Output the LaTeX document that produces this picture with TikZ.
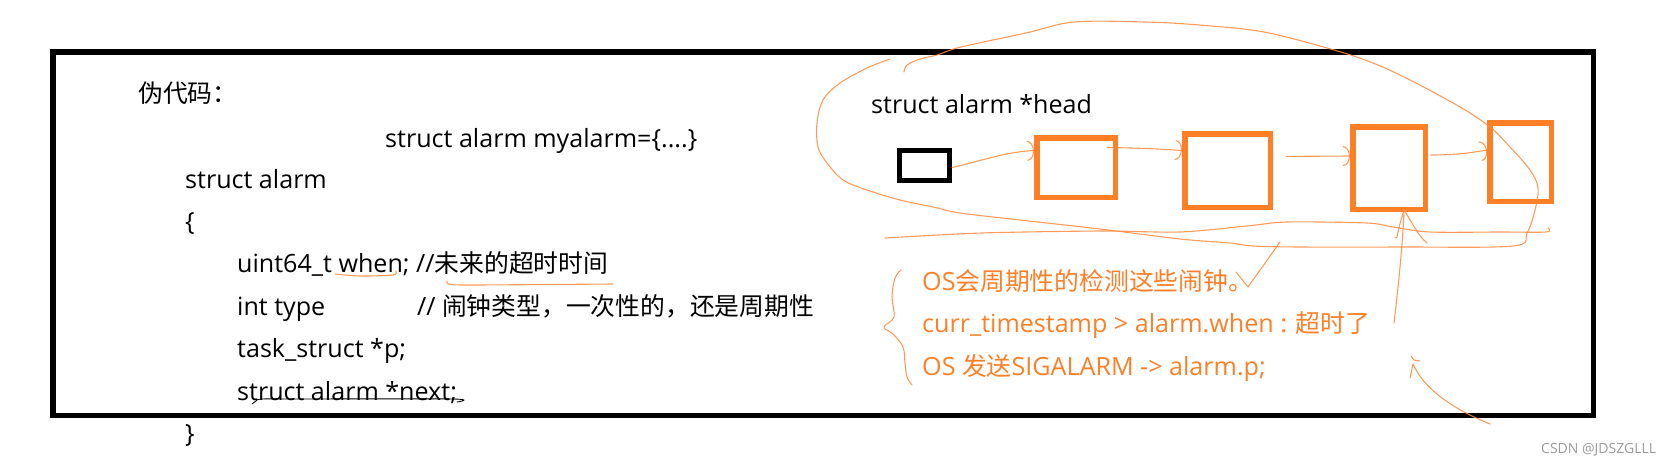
\documentclass[tikz,border=0pt]{standalone}
\usepackage{fontspec}
\setmainfont{Open Sans}
\newfontfamily\zh{Noto Sans CJK SC}
\usetikzlibrary{arrows.meta,calc}
\definecolor{paintorange}{HTML}{FF7F27}
\definecolor{handorange}{HTML}{FF8A3D}
\definecolor{wmgray}{HTML}{9A9A9A}
\newcommand{\lsz}{\fontsize{25.1}{29}\selectfont}
\newcommand{\zsz}{\fontsize{24.8}{29}\selectfont}
\newcommand{\cn}[1]{{\zh\zsz #1}}
\begin{document}
\begin{tikzpicture}[x=1pt,y=-1pt,
  code/.style={anchor=base west, inner sep=0pt, font=\lsz, text=black},
  note/.style={code, text=paintorange},
  blackbox/.style={draw=black, line width=5pt, inner sep=0pt, minimum width=50pt, minimum height=30pt},
  obox/.style={draw=paintorange, line width=5.5pt, inner sep=0pt},
  hand/.style={draw=handorange, line width=1.1pt, opacity=0.85, line cap=round, line join=round},
  handtip/.style={hand, -{Arc Barb[length=7pt,width=20pt]}},
  inkline/.style={draw=black, line width=0.9pt, line cap=round},
]
\path[use as bounding box] (0,0) rectangle (1669,463);
% frame
\draw[line width=5.5pt] (52.75,51.75) rectangle (1593.25,415.25);

% pseudo code
\node[code] (t0) at (138,102) {\cn{伪代码：}};
\node[code] (t1) at (385,147) {struct alarm myalarm=\{....\}};
\node[code] (t2) at (185,188) {struct alarm};
\node[code] (t3) at (185,230) {\{};
\node[code] (t4) at (237,272) {uint64\_t when; //\cn{未来的超时时间}};
\node[code] (t5) at (237,315) {int type};
\node[code] (t5c) at (417,315) {// \cn{闹钟类型，一次性的，还是周期性}};
\node[code] (t6) at (237,357) {task\_struct *p;};
\node[code] (t7) at (237,400) {struct alarm *next;};
\node[code] (t8) at (185,442) {\}};

% underline marks
\draw[hand] plot[smooth] coordinates {(335,274) (360,276) (393,275) (396,271)};
\draw[hand] plot[smooth] coordinates {(447,281) (449,284) (470,285) (613,284)};
\draw[inkline] plot[smooth] coordinates {(252,404) (256,401) (262,399) (300,399) (453,399) (457,402)};

% list
\node[code] (head) at (871,113) {struct alarm *head};
\node[blackbox] (b0) at (924.5,165.5) {};
\node[obox, minimum width=78.5pt, minimum height=59.5pt] (b1) at (1076,167.5) {};
\node[obox, minimum width=85.5pt, minimum height=73.5pt] (b2) at (1227.5,170.5) {};
\node[obox, minimum width=72.5pt, minimum height=82.5pt] (b3) at (1389,168) {};
\node[obox, minimum width=61.5pt, minimum height=78.5pt] (b4) at (1520.5,162) {};

\draw[handtip] ([yshift=-2pt]b0.east) .. controls (985,160) and (1005,152) .. ([yshift=17pt]b1.west);
\draw[handtip] ([yshift=20pt,xshift=-11pt]b1.east) .. controls (1140,148) and (1160,149) .. ([yshift=20pt]b2.west);
\draw[handtip, shorten <=13pt] ([yshift=14pt]b2.east) -- ([yshift=12pt]b3.west);
\draw[handtip, shorten <=3pt] ([yshift=13pt]b3.east) .. controls (1455,155) and (1470,153) .. ([yshift=12pt]b4.west);

% big loop around the list
\draw[hand] plot[smooth, tension=0.55] coordinates {
 (890,59) (867,68) (840,83) (823,100) (817,123) (818,147) (827,163) (843,180)
 (867,190) (900,200) (933,207) (960,213) (1020,220) (1100,229) (1180,239) (1230,243)
 (1253,246) (1300,247) (1400,247) (1513,246) (1527,233) (1535,210) (1538,188)
 (1530,170) (1510,147) (1490,127) (1460,107) (1410,80) (1373,63) (1334,50)
 (1264,32) (1199,25) (1145,22) (1074,22) (1026,33) (961,47) (937,55) (920,59) (907,65) (904,72)};
% wavy line under the list
\draw[hand] plot[smooth, tension=0.5] coordinates {
 (885,238) (982,233) (1102,231) (1180,232) (1247,226) (1287,222) (1367,223)
 (1393,227) (1430,232) (1500,232) (1546,232) (1548,228)};

% arrow up into third box
\coordinate (up3) at (1394,323);
\coordinate (tip3) at ([xshift=15pt,yshift=2pt]b3.south);
\draw[hand] (up3) .. controls (1399,280) and (1403,240) .. (tip3);
\draw[hand] (tip3) .. controls (1401,220) and (1398,230) .. (1397,237) -- (1395,238);
\draw[hand] (tip3) .. controls (1412,222) and (1418,236) .. (1427,243);

% notes
\node[note] (n1) at (922,290) {OS\cn{会周期性的检测这些闹钟。}};
\node[note] (n2) at (922,332) {curr\_timestamp > alarm.when : \cn{超时了}};
\node[note] (n3) at (922,375) {OS \cn{发送}SIGALARM -> alarm.p;};

% brace
\draw[hand] plot[smooth, tension=0.6] coordinates {
 (901,270) (895,278) (892,297) (894,317) (884,327) (893,334) (903,347) (905,363) (907,377) (912,385)};

% check mark pointer from the note to the loop
\draw[hand] (1236,272) -- (1248,287) -- (1280,242);

% bottom right hook
\coordinate (hk) at (1413,364);
\draw[hand] (1490,424) .. controls (1460,412) and (1425,392) .. (hk);
\draw[hand] (hk) -- (1410,378);
\draw[hand] (1411,356) -- (1414,360) -- (1420,361);

% watermark
\node[anchor=base west, inner sep=0pt, font=\fontsize{14}{16}\selectfont, text=wmgray] (wm) at (1541,453) {CSDN @JDSZGLLL};
\end{tikzpicture}
\end{document}
